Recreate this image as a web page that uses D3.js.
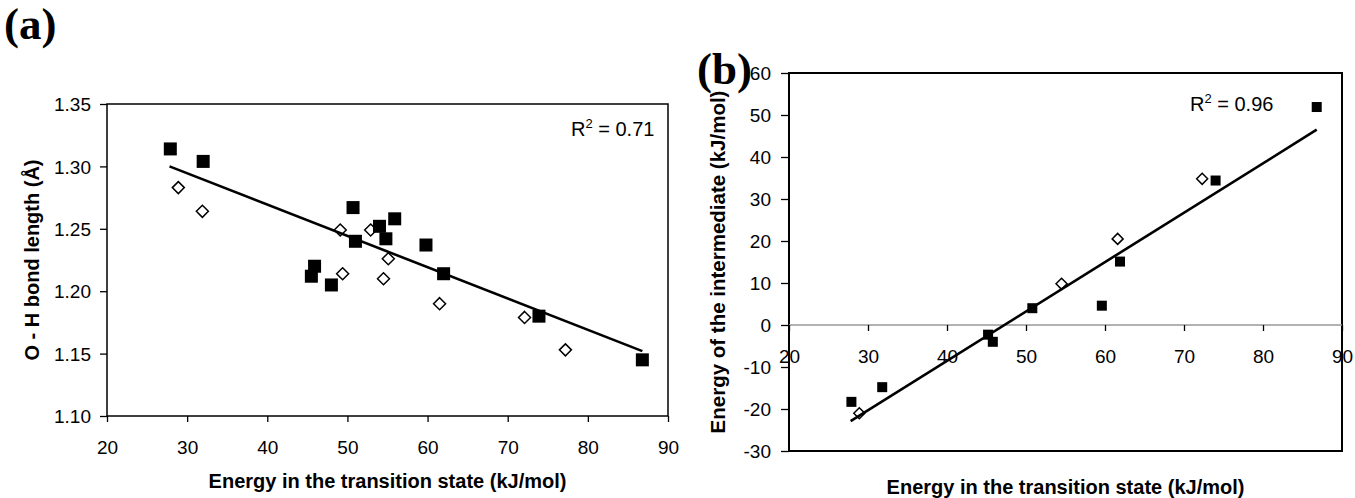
<!DOCTYPE html>
<html><head><meta charset="utf-8">
<script src="https://cdn.jsdelivr.net/npm/d3@7"></script>
<style>
body{margin:0;background:#fff}
svg{display:block}
text{font-family:"Liberation Sans",Arial,sans-serif;fill:#000}
</style>
</head><body>
<svg id="c" width="1355" height="498"></svg>
<script>
// ---------- data ----------
const xTicks = [20, 30, 40, 50, 60, 70, 80, 90];
const aYTicks = [1.10, 1.15, 1.20, 1.25, 1.30, 1.35];
const bYTicks = [-30, -20, -10, 0, 10, 20, 30, 40, 50, 60];

// panel (a): O-H bond length vs energy in transition state
const aSquareE = [27.9, 32.0, 50.7, 51.0, 54.0, 54.8, 55.9, 59.8, 62.0, 45.9, 45.5, 48.0, 73.9, 86.8];
const aSquareL = [1.314, 1.304, 1.267, 1.240, 1.252, 1.242, 1.258, 1.237, 1.214, 1.220, 1.212, 1.205, 1.180, 1.145];
const aDiamondE = [28.9, 31.9, 49.1, 49.4, 52.9, 54.5, 55.1, 61.5, 72.1, 77.2];
const aDiamondL = [1.283, 1.264, 1.249, 1.214, 1.249, 1.210, 1.226, 1.190, 1.179, 1.153];
const aTrendE = [27.8, 86.8];
const aTrendL = [1.300, 1.152];

// panel (b): energy of intermediate vs energy in transition state
const bSquareE = [27.9, 31.8, 45.2, 45.8, 50.8, 59.6, 61.9, 74.0, 86.8];
const bSquareI = [-18.3, -14.8, -2.3, -4.0, 4.0, 4.6, 15.1, 34.4, 51.9];
const bDiamondE = [28.9, 54.5, 61.6, 72.3];
const bDiamondI = [-21.0, 9.8, 20.5, 34.8];
const bTrendE = [27.8, 86.8];
const bTrendI = [-22.9, 46.5];

const labels = {
  a: "(a)", b: "(b)",
  xTitle: "Energy in the transition state (kJ/mol)",
  aYTitle: "O - H bond length (Å)",
  bYTitle: "Energy of the intermediate (kJ/mol)",
  aR2: "0.71", bR2: "0.96"
};

// ---------- drawing ----------
const svg = d3.select("#c");
const TICK_FONT = 19, TITLE_FONT = 20;

function zip(a, b) { return a.map((v, i) => [v, b[i]]); }

function diamondPath(cx, cy, r) {
  return `M${cx},${cy - r}L${cx + r},${cy}L${cx},${cy + r}L${cx - r},${cy}Z`;
}

function panel(opt) {
  const g = svg.append("g");
  const x = d3.scaleLinear().domain([20, 90]).range([opt.left, opt.right]);
  const y = d3.scaleLinear().domain(opt.yDomain).range([opt.bottom, opt.top]);

  // frame
  g.append("rect")
    .attr("x", opt.left).attr("y", opt.top)
    .attr("width", opt.right - opt.left).attr("height", opt.bottom - opt.top)
    .attr("fill", "none").attr("stroke", "#000").attr("stroke-width", opt.frameW);

  // zero line (panel b)
  let xAxisY = opt.bottom;
  if (opt.zeroLine) {
    xAxisY = y(0);
    g.append("line")
      .attr("x1", opt.left).attr("x2", opt.right)
      .attr("y1", xAxisY).attr("y2", xAxisY)
      .attr("stroke", "#999").attr("stroke-width", 1.6);
  }

  // y axis
  const ya = g.append("g").attr("transform", `translate(${opt.left},0)`)
    .call(d3.axisLeft(y).tickValues(opt.yTicks).tickFormat(opt.yFmt).tickSize(opt.yTickLen).tickPadding(0));
  ya.select(".domain").remove();
  ya.selectAll(".tick line").attr("stroke", "#000").attr("stroke-width", 1.3);
  ya.selectAll(".tick text").attr("x", -opt.yLabelOff).attr("dy", "0.35em")
    .style("font-size", TICK_FONT + "px").attr("font-family", null);

  // x axis
  const xa = g.append("g").attr("transform", `translate(0,${xAxisY})`)
    .call(d3.axisBottom(x).tickValues(xTicks).tickFormat(d => String(d)).tickSize(6).tickPadding(0));
  xa.select(".domain").remove();
  xa.selectAll(".tick line").attr("stroke", "#000").attr("stroke-width", 1.3);
  xa.selectAll(".tick text").attr("y", 31).attr("dy", "0.35em")
    .style("font-size", TICK_FONT + "px").attr("font-family", null);

  // diamonds
  g.selectAll("path.dia").data(opt.diamonds).enter().append("path")
    .attr("class", "dia")
    .attr("d", d => diamondPath(x(d[0]), y(d[1]), opt.diaR))
    .attr("fill", "#fff").attr("stroke", "#000").attr("stroke-width", 1.5);

  // squares
  g.selectAll("rect.sq").data(opt.squares).enter().append("rect")
    .attr("class", "sq")
    .attr("x", d => x(d[0]) - opt.sqS / 2).attr("y", d => y(d[1]) - opt.sqS / 2)
    .attr("width", opt.sqS).attr("height", opt.sqS).attr("fill", "#000");

  // trend line
  g.append("path").datum(opt.trend)
    .attr("d", d3.line().x(d => x(d[0])).y(d => y(d[1])))
    .attr("fill", "none").attr("stroke", "#000").attr("stroke-width", 2.6);

  // R^2 text
  const r = g.append("text").attr("x", opt.r2x).attr("y", opt.r2y).style("font-size", "20px");
  r.append("tspan").text("R");
  r.append("tspan").text("2").attr("dy", -8).style("font-size", "13px");
  r.append("tspan").text(" = " + opt.r2).attr("dy", 8);

  // x title
  g.append("text").attr("x", (opt.left + opt.right) / 2).attr("y", opt.xTitleY)
    .attr("text-anchor", "middle").style("font-size", TITLE_FONT + "px").style("font-weight", "bold")
    .text(labels.xTitle);

  // y title
  g.append("text")
    .attr("transform", `translate(${opt.yTitleX},${(opt.top + opt.bottom) / 2}) rotate(-90)`)
    .attr("text-anchor", "middle").attr("dy", "0.35em")
    .style("font-size", opt.yTitleFont + "px").style("font-weight", "bold")
    .text(opt.yTitle);

  // panel label
  svg.append("text").attr("x", opt.labX).attr("y", opt.labY)
    .style("font-family", '"Liberation Serif","Times New Roman",serif')
    .style("font-size", "45px").style("font-weight", "bold")
    .text(opt.lab);
}

panel({
  left: 107, right: 668, top: 104, bottom: 416,
  yDomain: [1.10, 1.35], yTicks: aYTicks, yFmt: d => d.toFixed(2),
  yTickLen: 7, yLabelOff: 16, frameW: 1.5,
  squares: zip(aSquareE, aSquareL), diamonds: zip(aDiamondE, aDiamondL),
  trend: zip(aTrendE, aTrendL), sqS: 13, diaR: 6,
  r2: labels.aR2, r2x: 571, r2y: 136,
  xTitleY: 488, yTitle: labels.aYTitle, yTitleX: 32, yTitleFont: 20,
  lab: labels.a, labX: 4, labY: 39
});

panel({
  left: 789, right: 1342, top: 73, bottom: 451,
  yDomain: [-30, 60], yTicks: bYTicks, yFmt: d => String(d),
  yTickLen: 8, yLabelOff: 18, frameW: 2, zeroLine: true,
  squares: zip(bSquareE, bSquareI), diamonds: zip(bDiamondE, bDiamondI),
  trend: zip(bTrendE, bTrendI), sqS: 10, diaR: 5.5,
  r2: labels.bR2, r2x: 1190, r2y: 111,
  xTitleY: 494, yTitle: labels.bYTitle, yTitleX: 718, yTitleFont: 20.5,
  lab: labels.b, labX: 697, labY: 84
});
</script>
</body></html>
